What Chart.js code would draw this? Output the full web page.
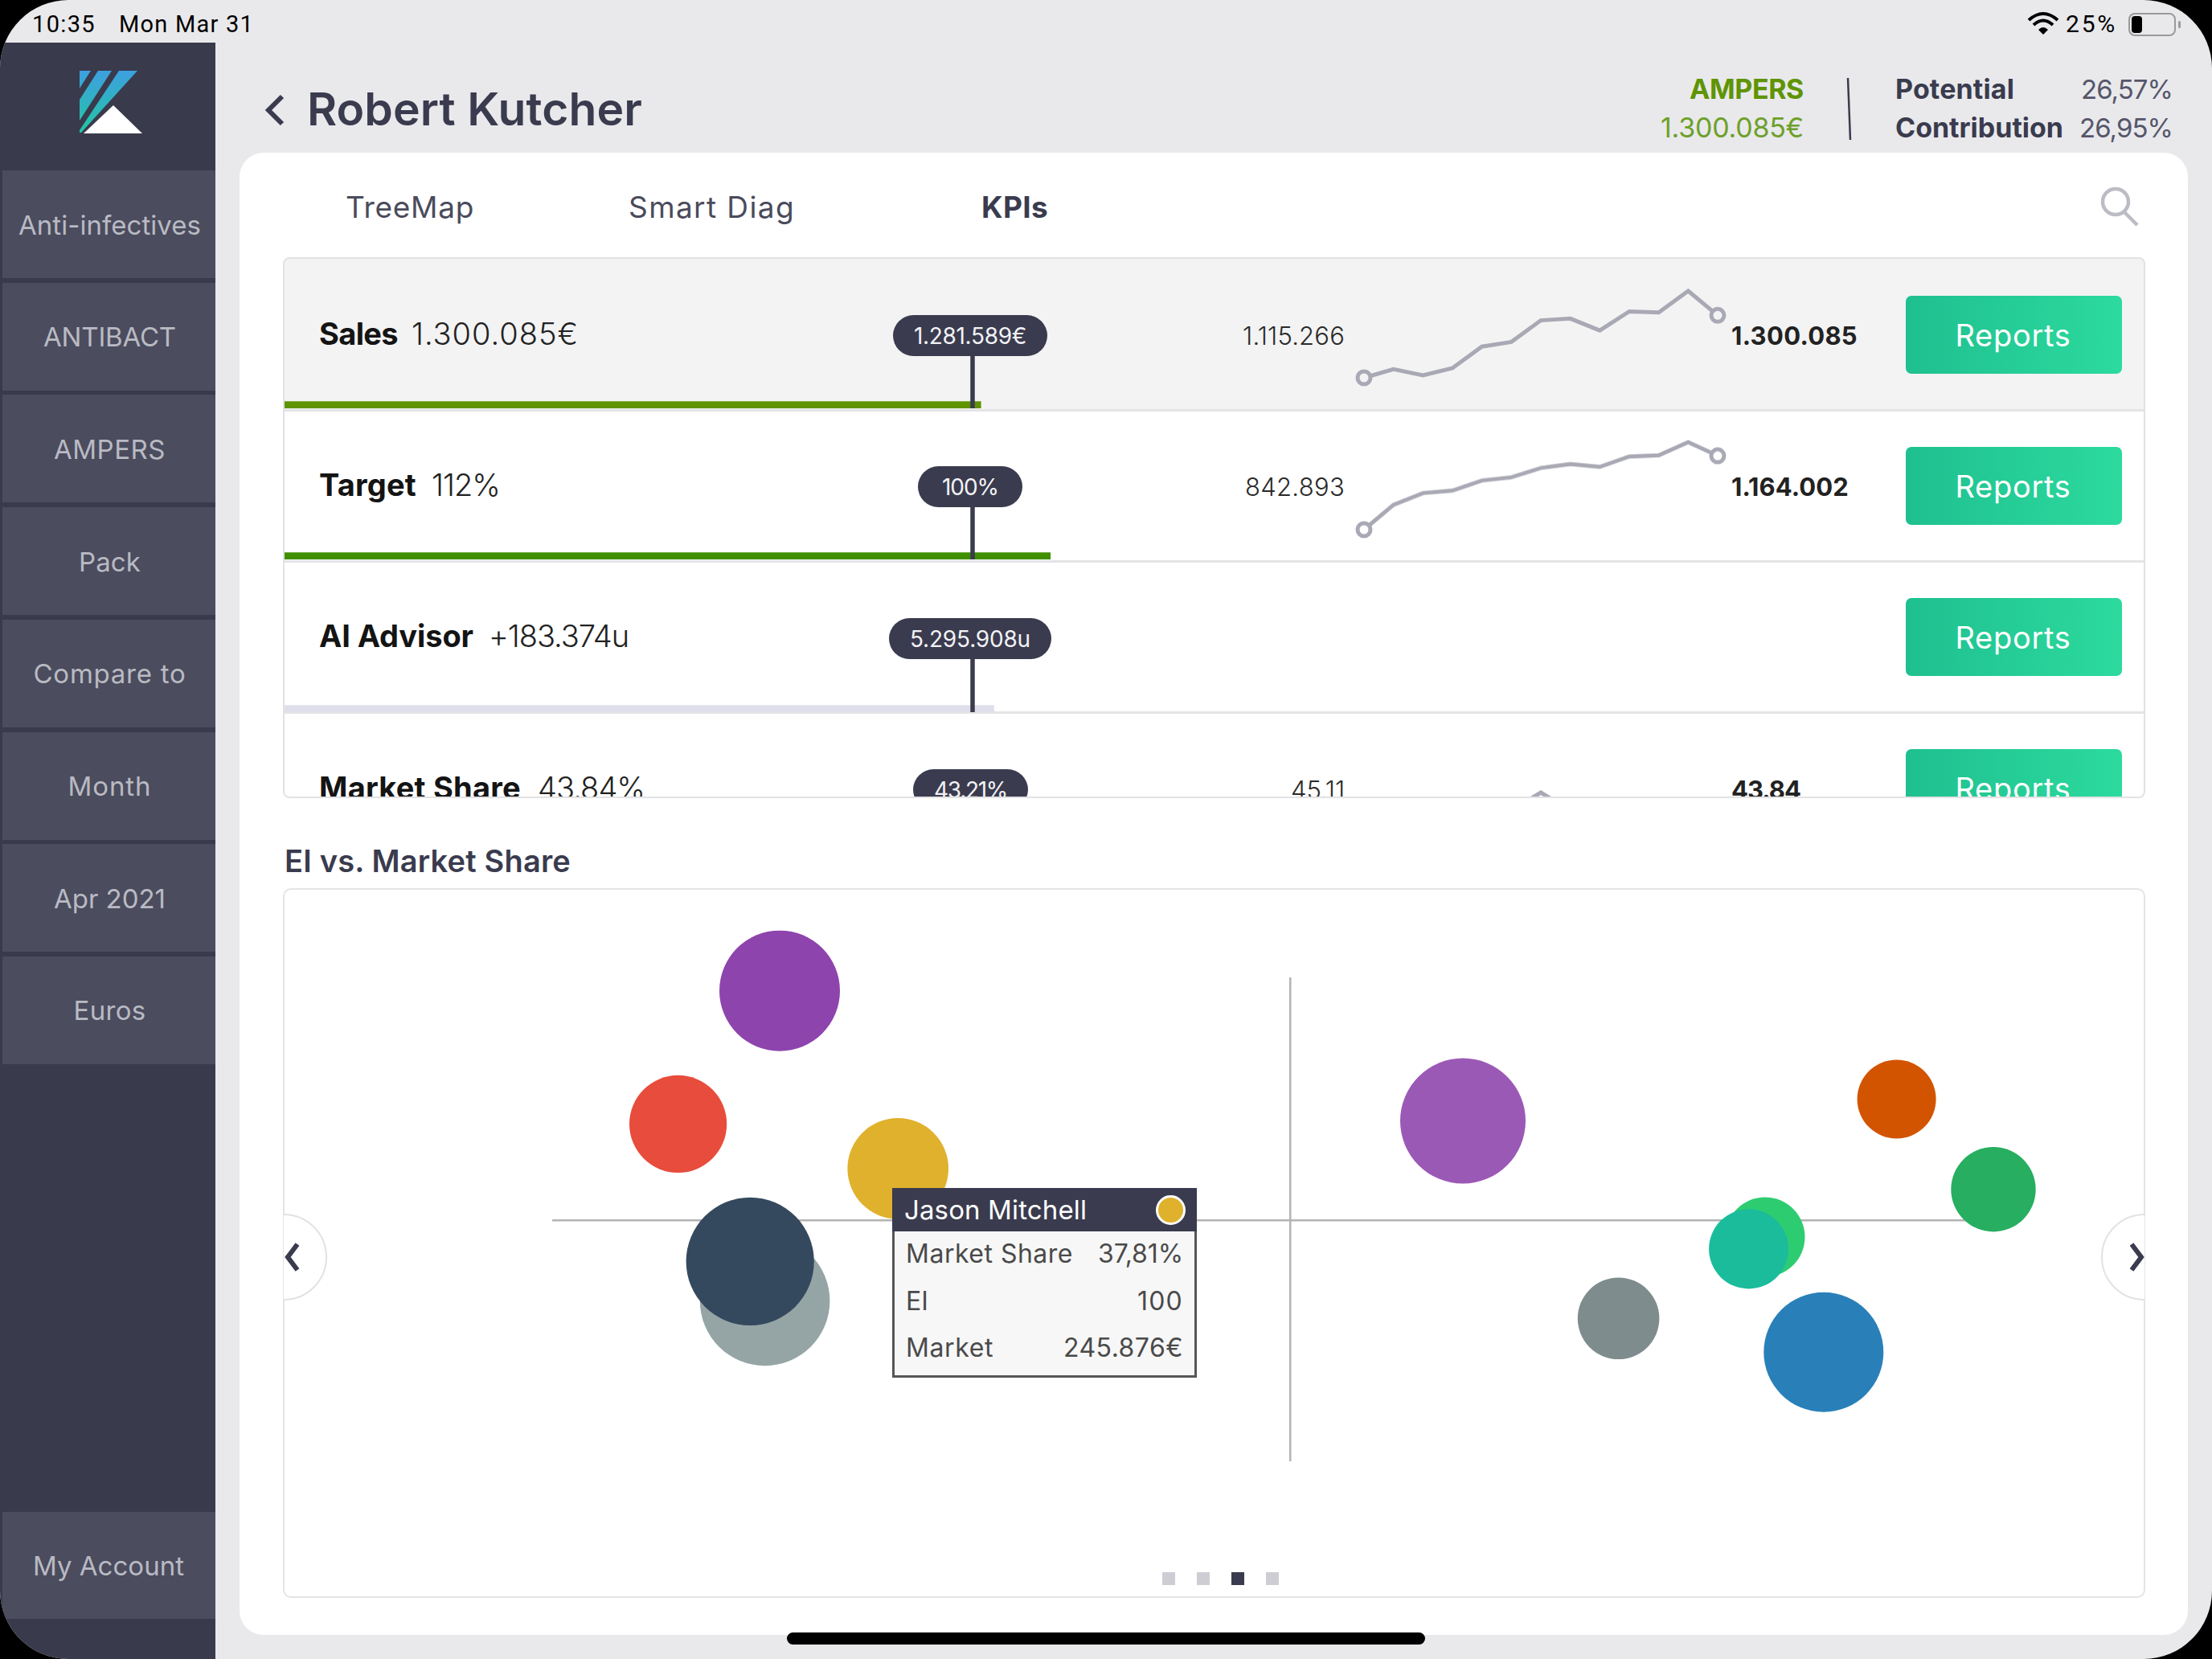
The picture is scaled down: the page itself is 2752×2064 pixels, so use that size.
<!DOCTYPE html>
<html><head><meta charset="utf-8"><title>Robert Kutcher KPIs</title>
<script src="https://cdn.jsdelivr.net/npm/chart.js@4"></script>
<style>
html,body{margin:0;padding:0;background:#000;width:2752px;height:2064px;overflow:hidden}
#screen{position:absolute;left:0;top:0;width:2752px;height:2064px;background:#e9e9ec;border-radius:85px;overflow:hidden;font-family:Inter,sans-serif}
.b{position:absolute;box-sizing:border-box}
.t{position:absolute;white-space:nowrap;line-height:1}
canvas{position:absolute;display:block}
#kpi{position:absolute;left:0;top:0;width:2752px;height:2064px;clip-path:inset(320px 84px 1071px 353px round 8px)}
</style></head><body><div id="screen">
<div class="b" style="left:0;top:53px;width:268px;height:2011px;background:#393a4c"></div>
<svg class="b" style="left:90px;top:80px" width="100" height="95" viewBox="90 80 100 95">
<defs><linearGradient id="g" gradientUnits="userSpaceOnUse" x1="0" y1="88" x2="0" y2="166"><stop offset="0" stop-color="#3d9fe0"/><stop offset="1" stop-color="#22c6a2"/></linearGradient></defs>
<polygon fill="url(#g)" points="99,88 113,88 99,110"/>
<polygon fill="url(#g)" points="122,88 139,88 99,150 99,124"/>
<polygon fill="url(#g)" points="148,88 171,88 101,165 99,165 99,162"/>
<polygon fill="#fff" points="141,131 177,166 104,166"/>
</svg>
<div id="kpiBg" class="b" style="left:298px;top:190px;width:2424px;height:1844px;background:#fff;border-radius:30px"></div>
<div id="kpi"></div>
<div class="b" style="left:352px;top:320px;width:2317px;height:673px;border:2.5px solid #e2e2e4;border-radius:8px"></div>
<div class="b" style="left:352px;top:1105px;width:2317px;height:883px;border:2.5px solid #e4e4e6;border-radius:10px"></div>
<canvas id="bubbleChart" width="2315" height="883" style="left:353px;top:1105px;width:2315px;height:883px"></canvas>
</div>
<script>
// ---------- data ----------
const menuItems = ['Anti-infectives','ANTIBACT','AMPERS','Pack','Compare to','Month','Apr 2021','Euros'];
const tabs = ['TreeMap','Smart Diag','KPIs'];
const kpiNames = ['Sales','Target','AI Advisor','Market Share'];
const kpiValues = ['1.300.085€','112%','+183.374u','43.84%'];
const kpiTargets = ['1.281.589€','100%','5.295.908u','43.21%'];
const trendStart = ['1.115.266','842.893','','45.11'];
const trendEnd = ['1.300.085','1.164.002','','43.84'];
const progressPct = [101.2,111.3,103.1];
const trendMonths = ['Apr','May','Jun','Jul','Aug','Sep','Oct','Nov','Dec','Jan','Feb','Mar','Apr'];
const salesTrend = [1115266,1140800,1122700,1143900,1207700,1221500,1285200,1290500,1255500,1311700,1308600,1372300,1300085];
const targetTrend = [842893,950500,1001900,1012800,1056500,1070500,1111000,1128200,1115700,1160900,1165600,1223200,1164002];
const shareTrend = [45.11,45.2,45.0,45.25,45.1,45.55,46.0,45.55,45.0,44.7,44.5,44.1,43.84];
const bubbleShare = [34.13,30.97,37.81,33.67,33.21,55.38,68.87,71.88,64.78,64.27,60.22,66.6];
const bubbleEI = [134.3,108.6,100,74.5,82.1,109.2,113.4,96.0,86.8,84.5,71.1,64.6];
const bubbleMarket = [350700,229000,245876,407000,395000,379300,149700,173100,152800,152800,160900,346000];
const bubbleColors = ['#8e44ad','#e74c3c','#e0b12c','#95a5a6','#34495e','#9b59b6','#d35400','#27ae60','#2ecc71','#1abc9c','#7f8c8d','#2980b9'];
const tooltipTitle = 'Jason Mitchell';
const tooltipRows = [['Market Share','37,81%'],['EI','100'],['Market','245.876€']];
// ---------- helpers ----------
const scr = document.getElementById('screen'), kpi = document.getElementById('kpi');
const DARK = '#3a3b4e';
function box(parent,l,t,w,h,css){const d=document.createElement('div');d.className='b';d.style.cssText=`left:${l}px;top:${t}px;width:${w}px;height:${h}px;${css||''}`;parent.appendChild(d);return d;}
function T(parent,text,x,cy,size,weight,color,align,width,family){
  const s=document.createElement('span');s.className='t';s.textContent=text;
  s.style.cssText=`font-size:${size}px;font-weight:${weight};color:${color};top:${cy}px;font-family:${family||'Inter,sans-serif'};`;
  if(align==='r')s.style.right=(2752-x)+'px';else s.style.left=x+'px';
  parent.appendChild(s);
  if(width&&text.length>1){const cur=s.getBoundingClientRect().width;s.style.letterSpacing=((width-cur)/text.length)+'px';}
  const r=s.getBoundingClientRect();
  s.style.top=(cy-r.height/2)+'px';
  if(align==='c')s.style.left=(x-r.width/2)+'px';
  return s;
}
// ---------- chrome ----------
T(scr,'10:35',40,30,29,400,'#000','l',79,'Roboto');
T(scr,'Mon Mar 31',148,30,29,400,'#000','l',168,'Roboto');
T(scr,'25%',2570,30,30,400,'#000','l',64,'Roboto');
scr.insertAdjacentHTML('beforeend',`<svg class="b" style="left:2520px;top:12px" width="200" height="36" viewBox="2520 12 200 36">
<path d="M2524 25 Q2542 9 2560 25 M2530 31 Q2542 20 2554 31" fill="none" stroke="#000" stroke-width="4"/><path d="M2536 37 Q2542 31 2548 37 L2542 43 Z" fill="#000"/>
<rect x="2649" y="17" width="57" height="27" rx="7" fill="none" stroke="#9a9a9a" stroke-width="2"/><rect x="2652" y="20" width="13" height="21" rx="4" fill="#000"/><rect x="2710" y="26" width="3" height="9" rx="1.5" fill="#9a9a9a"/></svg>
<svg class="b" style="left:320px;top:110px" width="50" height="54"><path d="M31 10 L14 27 L31 44" fill="none" stroke="${DARK}" stroke-width="6"/></svg>
<svg class="b" style="left:2295px;top:90px" width="14" height="90"><line x1="4" y1="7" x2="7" y2="84" stroke="${DARK}" stroke-width="2.5"/></svg>
<svg class="b" style="left:2605px;top:228px" width="62" height="58"><circle cx="27" cy="23" r="16" fill="none" stroke="#bcbcc4" stroke-width="4.5"/><line x1="38" y1="36" x2="54" y2="52" stroke="#bcbcc4" stroke-width="4.5"/></svg>`);
T(scr,'Robert Kutcher',382,135,57,600,DARK,'l',417);
T(scr,'AMPERS',2244,111,34,700,'#5f9404','r',142);
T(scr,'1.300.085€',2244,159,34,400,'#6ea02a','r',178);
T(scr,'Potential',2358,111,34,700,DARK,'l',148);
T(scr,'Contribution',2358,159,34,700,DARK,'l',209);
T(scr,'26,57%',2703,111,33,400,'#55566a','r',114);
T(scr,'26,95%',2703,159,33,400,'#55566a','r',116);
const menuW=[227,165,139,77,190,104,139,90];
menuItems.forEach((m,i)=>{const top=212+i*139.7;box(scr,3,top,265,134,'background:#4b4c5e');T(scr,m,136.5,top+68,33,400,'#b9bac3','c',menuW[i]);});
box(scr,3,1881,265,133,'background:#4b4c5e');
T(scr,'My Account',135,1948,33,400,'#b9bac3','c',188);
const tabX=[430,782,1221],tabW=[160,207,83];
tabs.forEach((t,i)=>T(scr,t,tabX[i],257,37,i===2?700:400,i===2?DARK:'#4a4b5c','l',tabW[i]));
// ---------- KPI rows ----------
const rowTop=[320,509,697,886], textY=[415,603,791,980], pillW=[[1111,192],[1142,130],[1106,202],[1136,143]];
const valX=[512,537,608,669], valW=[208,85,174,133], nameW=[98,121,192,251];
box(kpi,353,320,2315,189,'background:#f3f3f4');
[509,697,885].forEach(y=>box(kpi,353,y,2315,3,'background:#e4e4e6'));
kpiNames.forEach((n,i)=>{
  const rowY=rowTop[i];
  T(kpi,n,397,textY[i],38,700,'#141414','l',nameW[i]);
  T(kpi,kpiValues[i],valX[i],textY[i],38,300,'#222','l',valW[i]);
  const pt=rowY+73-(i===0?1:0)-(i===1?2:0)-(i===2?1:0)-(i===3?2:0);
  box(kpi,pillW[i][0],pt,pillW[i][1],51,`background:${DARK};border-radius:26px`);
  T(kpi,kpiTargets[i],pillW[i][0]+pillW[i][1]/2,pt+26,28,400,'#f2f2f5','c',pillW[i][1]-52-(i===1?8:0));
  if(trendStart[i]){
    T(kpi,trendStart[i],1673,textY[i]+2,31,300,'#2a2a2a','r',i===3?67:(i===1?124:127));
    T(kpi,trendEnd[i],2154,textY[i]+2,31,700,'#222','l',i===0?157:(i===1?146:86));
  }
  box(kpi,2370.5,[368,556,744,932][i],269,97,'background:linear-gradient(90deg,#1fc08f,#2cda9e);border-radius:7px');
  T(kpi,'Reports',2504.5,[417,605,793,981][i],38,400,'#fff','c',144);
});
// ---------- progress bars ----------
const stemPlugin={id:'stem',afterDatasetsDraw(c){
  const x=c.scales.x.getPixelForValue(100),y=c.scales.y,ctx=c.ctx;
  ctx.save();ctx.strokeStyle=DARK;ctx.lineWidth=5.5;ctx.beginPath();ctx.moveTo(x,y.getPixelForValue(66));ctx.lineTo(x,y.getPixelForValue(0));ctx.stroke();ctx.restore();}};
const barColors=['#5f9300','#3f8f00','#dfdfeb'];
const barBottoms=[508,696,886];
progressPct.forEach((v,i)=>{
  const cv=document.createElement('canvas');cv.width=2313;cv.height=100;
  cv.style.cssText=`left:354px;top:${barBottoms[i]-100}px;width:2313px;height:100px`;kpi.appendChild(cv);
  new Chart(cv,{type:'bar',plugins:[stemPlugin],data:{labels:[kpiNames[i]],datasets:[{data:[{x:v,y:4.25}],backgroundColor:barColors[i],barThickness:8.5,borderWidth:0}]},
    options:{indexAxis:'y',responsive:false,animation:false,devicePixelRatio:1,events:[],
      plugins:{legend:{display:false},tooltip:{enabled:false}},layout:{padding:0},
      scales:{x:{type:'linear',min:0,max:2313/8.56,display:false},y:{type:'linear',offset:false,min:0,max:100,display:false}}}});
});
// ---------- sparklines ----------
function spark(series,top,bottom,bg){
  const pad=14,cv=document.createElement('canvas'),w=440+2*pad,h=bottom-top+2*pad;
  cv.width=w;cv.height=h;cv.style.cssText=`left:${1697-pad}px;top:${top-pad}px;width:${w}px;height:${h}px`;kpi.appendChild(cv);
  const last=series.length-1;
  new Chart(cv,{type:'line',data:{labels:trendMonths,datasets:[{data:series,borderColor:'#a9a9b5',borderWidth:5,tension:0,fill:false,clip:false,
      pointRadius:c=>(c.dataIndex===0||c.dataIndex===last)?8:0,pointBorderColor:'#a9a9b5',pointBackgroundColor:bg,pointBorderWidth:5}]},
    options:{responsive:false,animation:false,devicePixelRatio:1,events:[],layout:{padding:pad},
      plugins:{legend:{display:false},tooltip:{enabled:false}},
      scales:{x:{display:false},y:{display:false,min:Math.min(...series),max:Math.max(...series)}}}});
}
spark(salesTrend,362.4,470.4,'#f3f3f4');
spark(targetTrend,549.9,658.8,'#ffffff');
spark(shareTrend,986,1094,'#ffffff');
// ---------- bubble chart ----------
T(scr,'EI vs. Market Share',354,1071,38,600,DARK,'l',356);
const REF_MARKET=245876, REF_R=62.8;
const points=bubbleShare.map((x,i)=>({x,y:bubbleEI[i],r:REF_R*Math.sqrt(bubbleMarket[i]/REF_MARKET)}));
new Chart(document.getElementById('bubbleChart'),{type:'bubble',
  data:{datasets:[{data:points,backgroundColor:bubbleColors,borderWidth:0,clip:false}]},
  options:{responsive:false,animation:false,devicePixelRatio:1,events:[],
    layout:{padding:{left:335,right:158,top:111.9,bottom:170.5}},
    plugins:{legend:{display:false},tooltip:{enabled:false}},
    scales:{
      x:{type:'linear',min:27.08,max:72.63,position:{y:90},ticks:{display:false},grid:{display:false,drawTicks:false},border:{color:'#b4b4b4',width:2.5}},
      y:{type:'linear',min:43.63,max:136.74,position:{x:50},ticks:{display:false},grid:{display:false,drawTicks:false},border:{color:'#b4b4b4',width:2.5}}
    }}});
// nav bulges + pager
[353,2668].forEach((cx,i)=>{
  box(scr,cx-54,1510,108,108,`background:#fff;border:2.5px solid #e2e2e4;border-radius:50%;clip-path:inset(-2px ${i?'50%':'-2px'} -2px ${i?'-2px':'50%'})`);
});
scr.insertAdjacentHTML('beforeend',`<svg class="b" style="left:353px;top:1540px" width="30" height="48"><path d="M17 8 L5 24 L17 40" fill="none" stroke="${DARK}" stroke-width="6"/></svg>
<svg class="b" style="left:2640px;top:1540px" width="30" height="48"><path d="M12 8 L24 24 L12 40" fill="none" stroke="${DARK}" stroke-width="6"/></svg>`);
[1446,1489,1532,1575].forEach((x,i)=>box(scr,x,1956,16,16,`background:${i===2?DARK:'#cdcdd3'}`));
// tooltip
box(scr,1110,1478,379,236,'background:#f7f7f7;border:3px solid #565656');
box(scr,1110,1478,379,54,`background:${DARK}`);
T(scr,tooltipTitle,1125,1505,33,400,'#fff','l',227);
box(scr,1437.5,1486.5,37,37,`background:${bubbleColors[2]};border:3px solid #fff;border-radius:50%`);
const rowYs=[1560,1619,1677],leftW=[208,28,109],rightW=[106,57,149];
tooltipRows.forEach((r,i)=>{
  T(scr,r[0],1127,rowYs[i],32,400,'#4a4a4a','l',leftW[i]);
  T(scr,r[1],1472,rowYs[i],32,400,'#4a4a4a','r',rightW[i]);
});
box(scr,979,2031,794,15,'background:#000;border-radius:8px');
</script></body></html>
